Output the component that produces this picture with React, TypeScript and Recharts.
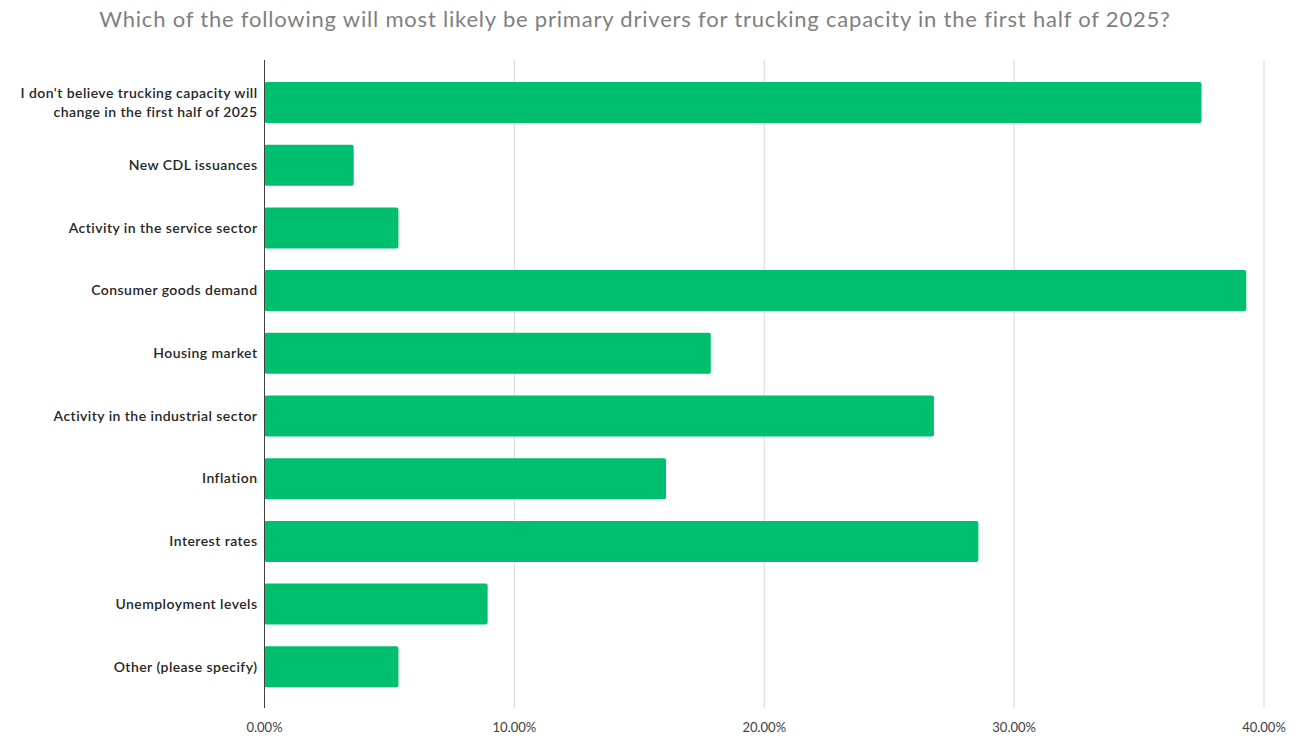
import { BarChart, Bar, XAxis, YAxis, CartesianGrid } from 'recharts';

const title = 'Which of the following will most likely be primary drivers for trucking capacity in the first half of 2025?';

const categories = [
  "I don't believe trucking capacity will change in the first half of 2025",
  'New CDL issuances',
  'Activity in the service sector',
  'Consumer goods demand',
  'Housing market',
  'Activity in the industrial sector',
  'Inflation',
  'Interest rates',
  'Unemployment levels',
  'Other (please specify)',
];

const shares = [37.5, 3.57, 5.36, 39.29, 17.86, 26.79, 16.07, 28.57, 8.93, 5.36];

const xTicks = [0, 10, 20, 30, 40];

const data = categories.map((name, i) => ({ name, value: shares[i] }));

// split long labels onto two lines, like the original
function CategoryTick(props: any) {
  const { x, y, payload } = props;
  const text: string = payload.value;
  let lines = [text];
  if (text.length > 40) {
    const cut = text.indexOf(' change');
    lines = [text.slice(0, cut), text.slice(cut + 1)];
  }
  const lh = 19;
  const start = -((lines.length - 1) * lh) / 2;
  return (
    <text
      x={x}
      y={y}
      textAnchor="end"
      fill="#262626"
      fontSize={14}
      letterSpacing={0.45}
      fontFamily="Lato, sans-serif"
      fontWeight={600}
    >
      {lines.map((l, i) => (
        <tspan key={i} x={x} y={y + start + i * lh} dy="0.35em">
          {l}
        </tspan>
      ))}
    </text>
  );
}

export default function App() {
  return (
    <div style={{ position: 'absolute', left: 0, top: 0, width: 1299, height: 736, background: '#fff' }}>
      <div
        style={{
          position: 'absolute',
          top: 5,
          left: 0,
          width: 1270,
          textAlign: 'center',
          fontFamily: 'Lato, sans-serif',
          fontSize: 22,
          letterSpacing: 0.8,
          color: '#7f7f7f',
        }}
      >
        {title}
      </div>
      <BarChart
        width={1299}
        height={736}
        data={data}
        layout="vertical"
        margin={{ top: 60, right: 35, bottom: 0, left: 0 }}
      >
        <CartesianGrid horizontal={false} stroke="#d9d9d9" />
        <XAxis
          type="number"
          domain={[0, 40]}
          ticks={xTicks}
          tickFormatter={(v: number) => `${v.toFixed(2)}%`}
          axisLine={false}
          tickLine={false}
          tickMargin={9}
          height={28}
          tick={{ fontSize: 13, fill: '#404040', fontFamily: 'Lato, sans-serif' }}
        />
        <YAxis
          type="category"
          dataKey="name"
          width={264.5}
          axisLine={{ stroke: '#404040' }}
          tickLine={false}
          tickMargin={1}
          padding={{ top: 11, bottom: 10 }}
          tick={<CategoryTick />}
          interval={0}
        />
        <Bar dataKey="value" fill="#00bf6f" barSize={41} radius={2} isAnimationActive={false} />
      </BarChart>
    </div>
  );
}
